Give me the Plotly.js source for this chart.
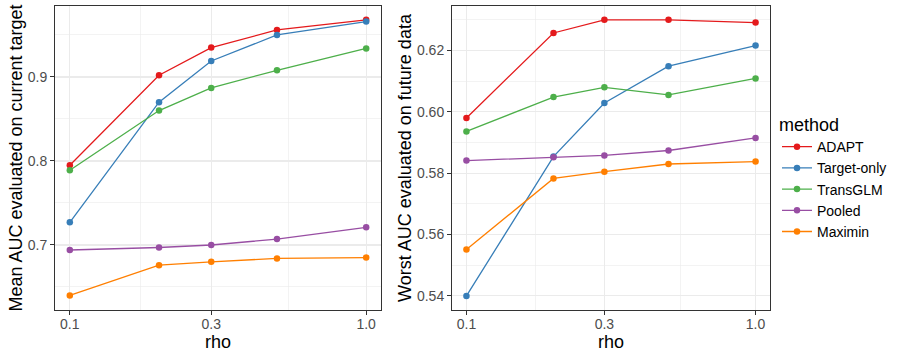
<!DOCTYPE html>
<html>
<head>
<meta charset="utf-8">
<script src="https://cdn.plot.ly/plotly-3.0.1.min.js"></script>
<style>
  html, body { margin: 0; padding: 0; background: #ffffff; }
  #chart { width: 897px; height: 359px; }
</style>
</head>
<body>
<div id="chart"></div>
<script>
// ── Data ──────────────────────────────────────────────────────
const RHO     = [0.1, 0.2, 0.3, 0.5, 1.0];
const METHODS = ["ADAPT", "Target-only", "TransGLM", "Pooled", "Maximin"];
const COLORS  = ["#E41A1C", "#377EB8", "#4DAF4A", "#984EA3", "#FF7F00"];

// Left panel: mean AUC on current target
const meanAUC_ADAPT    = [0.795, 0.902, 0.935, 0.956, 0.968];
const meanAUC_Target   = [0.727, 0.870, 0.919, 0.950, 0.966];
const meanAUC_TransGLM = [0.789, 0.860, 0.887, 0.908, 0.934];
const meanAUC_Pooled   = [0.694, 0.697, 0.700, 0.707, 0.721];
const meanAUC_Maximin  = [0.640, 0.676, 0.680, 0.684, 0.685];

// Right panel: worst AUC on future data
const worstAUC_ADAPT    = [0.598, 0.6257, 0.630, 0.630, 0.6291];
const worstAUC_Target   = [0.540, 0.5854, 0.6029, 0.6149, 0.6216];
const worstAUC_TransGLM = [0.5936, 0.6048, 0.608, 0.6055, 0.6109];
const worstAUC_Pooled   = [0.5841, 0.5852, 0.5858, 0.5874, 0.5915];
const worstAUC_Maximin  = [0.5551, 0.5783, 0.5805, 0.583, 0.5838];

const X_TICKS     = [0.1, 0.3, 1.0];
const X_TICKTEXT  = ["0.1", "0.3", "1.0"];
const X_MINOR     = [0.173, 0.548];

const MEAN_SERIES  = [meanAUC_ADAPT, meanAUC_Target, meanAUC_TransGLM, meanAUC_Pooled, meanAUC_Maximin];
const WORST_SERIES = [worstAUC_ADAPT, worstAUC_Target, worstAUC_TransGLM, worstAUC_Pooled, worstAUC_Maximin];

// ── Build traces ──────────────────────────────────────────────
const FONT = "Liberation Sans, Arial, sans-serif";
const W = 897, H = 359;

function makeTraces(series, xa, ya, showLegend) {
  return series.map((ys, i) => ({
    x: RHO, y: ys,
    xaxis: xa, yaxis: ya,
    type: "scatter", mode: "lines+markers",
    name: METHODS[i],
    legendgroup: METHODS[i],
    showlegend: showLegend,
    line: { color: COLORS[i], width: 1.3 },
    marker: { color: COLORS[i], size: 6.5 },
  }));
}

const traces = [
  ...makeTraces(MEAN_SERIES, "x", "y", true),
  ...makeTraces(WORST_SERIES, "x2", "y2", false),
];

// ── Axis helpers (theme_bw look) ──────────────────────────────
function xAxis(left, right, anchor) {
  return {
    type: "log",
    domain: [left / W, right / W],
    anchor: anchor,
    range: [-1.05, 0.05],
    tickmode: "array", tickvals: X_TICKS, ticktext: X_TICKTEXT,
    ticks: "outside", ticklen: 4, tickcolor: "#333333", tickwidth: 1,
    ticklabelstandoff: -3,
    tickfont: { family: FONT, size: 14, color: "#4d4d4d" },
    showgrid: true, gridcolor: "#ebebeb", gridwidth: 1.1,
    minor: { tickmode: "array", tickvals: X_MINOR, showgrid: true, gridcolor: "#ebebeb", gridwidth: 0.6, ticks: "" },
    showline: true, mirror: true, linecolor: "#333333", linewidth: 1,
    zeroline: false,
    title: { text: "rho", font: { family: FONT, size: 18, color: "#000" }, standoff: 1 },
  };
}

function yAxis(anchor, range, dtick, minorTick0, fmt, title) {
  return {
    domain: [(H - 310) / H, (H - 6) / H],
    anchor: anchor,
    range: range,
    dtick: dtick,
    tickformat: fmt,
    ticks: "outside", ticklen: 4, tickcolor: "#333333", tickwidth: 1,
    tickfont: { family: FONT, size: 14, color: "#4d4d4d" },
    showgrid: true, gridcolor: "#ebebeb", gridwidth: 1.1,
    minor: { dtick: dtick, tick0: minorTick0, showgrid: true, gridcolor: "#ebebeb", gridwidth: 0.6, ticks: "" },
    showline: true, mirror: true, linecolor: "#333333", linewidth: 1,
    zeroline: false,
    title: { text: title, font: { family: FONT, size: 18, color: "#000" }, standoff: 0 },
  };
}

const layout = {
  width: W, height: H,
  margin: { l: 0, r: 0, t: 0, b: 0 },
  paper_bgcolor: "#ffffff",
  plot_bgcolor: "#ffffff",
  font: { family: FONT },
  xaxis:  xAxis(55, 381, "y"),
  yaxis:  yAxis("x", [0.6226, 0.9845], 0.1, 0.65, ".1f", "Mean AUC evaluated on current target"),
  xaxis2: xAxis(452, 770, "y2"),
  yaxis2: yAxis("x2", [0.5354, 0.6345], 0.02, 0.55, ".2f", "Worst AUC evaluated on future data"),
  legend: {
    x: 777 / W, y: 0.70, xanchor: "left", yanchor: "top",
    title: { text: "method", font: { family: FONT, size: 18, color: "#000" } },
    font: { family: FONT, size: 14, color: "#000" },
    tracegroupgap: 0,
    itemwidth: 30,
    bgcolor: "rgba(0,0,0,0)",
  },
  showlegend: true,
};

Plotly.newPlot("chart", traces, layout, { displayModeBar: false, staticPlot: true });
</script>
</body>
</html>
